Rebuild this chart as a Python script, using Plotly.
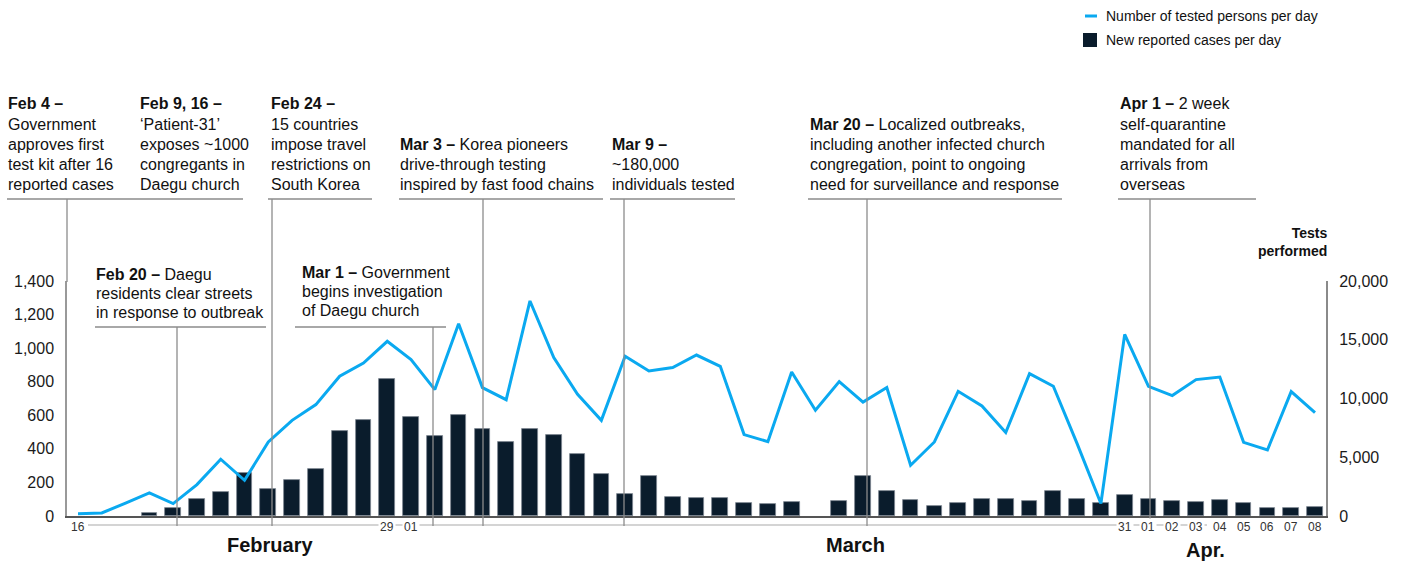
import plotly.graph_objects as go
import pandas as pd

# ---------------- data ----------------
dates = [d.strftime("%Y-%m-%d") for d in pd.date_range("2020-02-16", "2020-04-08")]

new_cases = [None, None, None, 16, 50, 100, 142, 256, 160, 213, 283, 507, 573, 816,
             587, 478, 601, 518, 439, 520, 484, 368, 249, 131, 241, 114, 109, 107,
             76, 73, 84, None, 92, 239, 147, 96, 62, 76, 100, 102, 90, 146, 102,
             76, 123, 100, 90, 85, 94, 79, 45, 45, 52]

tested = [200, 260, 1100, 1960, 1060, 2670, 4830, 3040, 6300, 8140, 9480, 11890,
          13020, 14870, 13310, 10760, 16370, 10930, 9900, 18300, 13480, 10360, 8140,
          13590, 12340, 12630, 13700, 12740, 6930, 6330, 12260, 9000, 11440, 9700,
          10930, 4320, 6300, 10610, 9360, 7100, 12120, 11040, 6160, 1060, 15460,
          11040, 10250, 11610, 11830, 6270, 5620, 10590, 8800]

tick_dates = ["2020-02-16", "2020-02-29", "2020-03-01", "2020-03-31", "2020-04-01",
              "2020-04-02", "2020-04-03", "2020-04-04", "2020-04-05", "2020-04-06",
              "2020-04-07", "2020-04-08"]
tick_text = ["16", "29", "01", "31", "01", "02", "03", "04", "05", "06", "07", "08"]

months = ["February", "March", "Apr."]

left_ticks = [0, 200, 400, 600, 800, 1000, 1200, 1400]
right_ticks = [0, 5000, 10000, 15000, 20000]

events_top = [
    ["<b>Feb 4 –</b>", "Government", "approves first", "test kit after 16", "reported cases"],
    ["<b>Feb 9, 16 –</b>", "‘Patient-31’", "exposes ~1000", "congregants in", "Daegu church"],
    ["<b>Feb 24 –</b>", "15 countries", "impose travel", "restrictions on", "South Korea"],
    ["<b>Mar 3 –</b> Korea pioneers", "drive-through testing", "inspired by fast food chains"],
    ["<b>Mar 9 –</b>", "~180,000", "individuals tested"],
    ["<b>Mar 20 –</b> Localized outbreaks,", "including another infected church",
     "congregation, point to ongoing", "need for surveillance and response"],
    ["<b>Apr 1 –</b> 2 week", "self-quarantine", "mandated for all", "arrivals from", "overseas"],
]
events_low = [
    ["<b>Feb 20 –</b> Daegu", "residents clear streets", "in response to outbreak"],
    ["<b>Mar 1 –</b> Government", "begins investigation", "of Daegu church"],
]

# ---------------- layout helpers (pixel -> paper) ----------------
L, R, T, B = 67, 1326, 281, 516
W, H = R - L, B - T


def PX(x):
    return (x - L) / W


def PY(y):
    return (B - y) / H


FONT = "Arial, 'Liberation Sans', sans-serif"
BLUE = "#0AA9F0"
NAVY = "#0A1C2C"
TXT = "#111111"

fig = go.Figure()
fig.add_trace(go.Bar(x=dates, y=new_cases, name="New reported cases per day",
                     marker=dict(color=NAVY, line=dict(color="#7d8791", width=0.8)),
                     width=0.66 * 86400000, yaxis="y"))
fig.add_trace(go.Scatter(x=dates, y=tested, name="Number of tested persons per day",
                         mode="lines", line=dict(color=BLUE, width=3), yaxis="y2"))

shapes = []
annotations = []

# event text blocks (top group)
top_x = [7, 139, 270, 399, 611, 809, 1119]
row_y_top = [104, 124.5, 144.5, 164.5, 184]
for x0, lines in zip(top_x, events_top):
    rows = row_y_top[len(row_y_top) - len(lines):]
    for yy, t in zip(rows, lines):
        annotations.append(dict(x=PX(x0), y=PY(yy), xref="paper", yref="paper",
                                text=t, showarrow=False, xanchor="left", yanchor="middle",
                                font=dict(family=FONT, size=16, color=TXT), borderpad=0))
low_x = [95, 301]
row_y_low = [[274, 293, 312.5], [272, 291, 310.5]]
for x0, rows, lines in zip(low_x, row_y_low, events_low):
    for yy, t in zip(rows, lines):
        annotations.append(dict(x=PX(x0), y=PY(yy), xref="paper", yref="paper",
                                text=t, showarrow=False, xanchor="left", yanchor="middle",
                                font=dict(family=FONT, size=16, color=TXT), borderpad=0))

# horizontal rules under event texts
HCOL = "#a8a8a8"
for a, b in [(7, 243), (268, 372), (399, 603), (610, 735), (808, 1062), (1118, 1256)]:
    shapes.append(dict(type="line", xref="paper", yref="paper", x0=PX(a), x1=PX(b),
                       y0=PY(199), y1=PY(199), line=dict(color=HCOL, width=2)))
for a, b in [(95, 266), (295, 446)]:
    shapes.append(dict(type="line", xref="paper", yref="paper", x0=PX(a), x1=PX(b),
                       y0=PY(327), y1=PY(327), line=dict(color=HCOL, width=2)))

# light gray rule below the x axis
shapes.append(dict(type="line", xref="paper", yref="paper", x0=PX(88), x1=PX(1207),
                   y0=PY(525), y1=PY(525), line=dict(color="#d4d4d4", width=2)))

# vertical connector lines
VCOL = "#8c8c8c"
for x0, ya, yb in [(67, 199, 282), (272, 199, 526), (483, 199, 526), (624, 199, 526),
                   (867, 199, 526), (1150, 199, 527), (177, 327, 526), (433, 327, 526)]:
    shapes.append(dict(type="line", xref="paper", yref="paper", x0=PX(x0), x1=PX(x0),
                       y0=PY(ya), y1=PY(yb), line=dict(color=VCOL, width=1.3)))

# date tick labels (white background over the gray rule)
for d, t in zip(tick_dates, tick_text):
    annotations.append(dict(x=d, y=PY(527), xref="x", yref="paper", text=t,
                            showarrow=False, xanchor="center", yanchor="middle",
                            bgcolor="white", borderpad=1,
                            font=dict(family=FONT, size=12, color="#333333")))

# month labels
for m, xc, yc in zip(months, [270, 855, 1205], [545, 545, 550]):
    annotations.append(dict(x=PX(xc), y=PY(yc), xref="paper", yref="paper",
                            text="<b>%s</b>" % m, showarrow=False, xanchor="center",
                            yanchor="middle", font=dict(family=FONT, size=20, color=TXT)))

# right axis title
annotations.append(dict(x=PX(1329), y=PY(242), xref="paper", yref="paper",
                        text="<b>Tests</b><br><b>performed</b>", showarrow=False,
                        xanchor="right", yanchor="middle", align="right",
                        font=dict(family=FONT, size=14, color=TXT)))

# manual legend
shapes.append(dict(type="line", xref="paper", yref="paper", x0=PX(1085), x1=PX(1097),
                   y0=PY(16), y1=PY(16), line=dict(color=BLUE, width=3)))
shapes.append(dict(type="rect", xref="paper", yref="paper", x0=PX(1083), x1=PX(1097),
                   y0=PY(47), y1=PY(33), line=dict(width=0), fillcolor=NAVY))
annotations.append(dict(x=PX(1104), y=PY(16), xref="paper", yref="paper",
                        text="Number of tested persons per day", showarrow=False,
                        xanchor="left", yanchor="middle",
                        font=dict(family=FONT, size=14, color=TXT)))
annotations.append(dict(x=PX(1104), y=PY(40), xref="paper", yref="paper",
                        text="New reported cases per day", showarrow=False,
                        xanchor="left", yanchor="middle",
                        font=dict(family=FONT, size=14, color=TXT)))

fig.update_layout(
    template="none",
    width=1406, height=562,
    margin=dict(l=L, r=1406 - R, t=T, b=562 - B, pad=0),
    paper_bgcolor="white", plot_bgcolor="white",
    showlegend=False,
    bargap=0,
    font=dict(family=FONT, color=TXT),
    xaxis=dict(type="date", range=["2020-02-15 12:54", "2020-04-08 11:06"],
               showgrid=False, zeroline=False, showticklabels=False, ticks="",
               showline=True, linecolor="#555555", linewidth=2, automargin=False),
    yaxis=dict(range=[0, 1400], tickvals=left_ticks, tickformat=",",
               showgrid=False, zeroline=False, showline=True, linecolor="#999999",
               linewidth=1.5, ticks="outside", ticklen=8, tickcolor="rgba(0,0,0,0)",
               tickfont=dict(family=FONT, size=16, color="#1a1a1a"), automargin=False),
    yaxis2=dict(range=[0, 20000], tickvals=right_ticks, tickformat=",",
                overlaying="y", side="right", showgrid=False, zeroline=False,
                showline=True, linecolor="#8a8a8a", linewidth=2, ticks="outside",
                ticklen=8, tickcolor="rgba(0,0,0,0)",
                tickfont=dict(family=FONT, size=16, color="#1a1a1a"), automargin=False),
    shapes=shapes,
    annotations=annotations,
)

fig.write_html(
    "out.html",
    config={"displayModeBar": False},
    post_script="document.body.style.margin='0';document.body.style.padding='0';"
                "document.body.style.overflow='hidden';",
)
